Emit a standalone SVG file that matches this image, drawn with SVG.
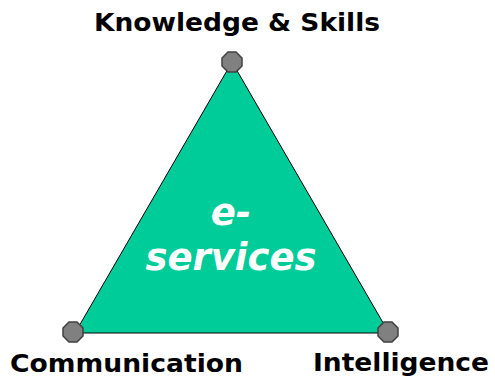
<svg xmlns="http://www.w3.org/2000/svg" width="495" height="378" viewBox="0 0 495 378">
<style>
.lbl{font-family:"DejaVu Sans",Verdana,sans-serif;font-weight:bold;font-size:24px;fill:#000}
.ctr{font-family:"DejaVu Sans",Verdana,sans-serif;font-weight:bold;font-style:italic;font-size:37px;fill:#fff}
.oct{fill:#808080;stroke:#404040;stroke-width:1.5}
</style>
<defs>
<polygon id="oct" class="oct" points="-4,-10 4,-10 10,-4 10,4 4,10 -4,10 -10,4 -10,-4"/>
</defs>
<g id="triangle">
<polygon points="232,62 75,333 389,333" fill="#00CC99" stroke="#000" stroke-width="1"/>
<text class="ctr" x="231" y="225" text-anchor="middle">e-</text>
<text class="ctr" x="231" y="270" text-anchor="middle" textLength="171" lengthAdjust="spacingAndGlyphs">services</text>
</g>
<g id="connectors"></g>
<g id="knowledge">
<use href="#oct" x="232" y="62"/>
<text class="lbl" x="94" y="31" textLength="286" lengthAdjust="spacingAndGlyphs">Knowledge &amp; Skills</text>
</g>
<g id="communication">
<use href="#oct" x="73" y="332"/>
<text class="lbl" x="10" y="372" textLength="233" lengthAdjust="spacingAndGlyphs">Communication</text>
</g>
<g id="intelligence">
<use href="#oct" x="388" y="332"/>
<text class="lbl" x="313" y="371" textLength="176" lengthAdjust="spacingAndGlyphs">Intelligence</text>
</g>
</svg>
